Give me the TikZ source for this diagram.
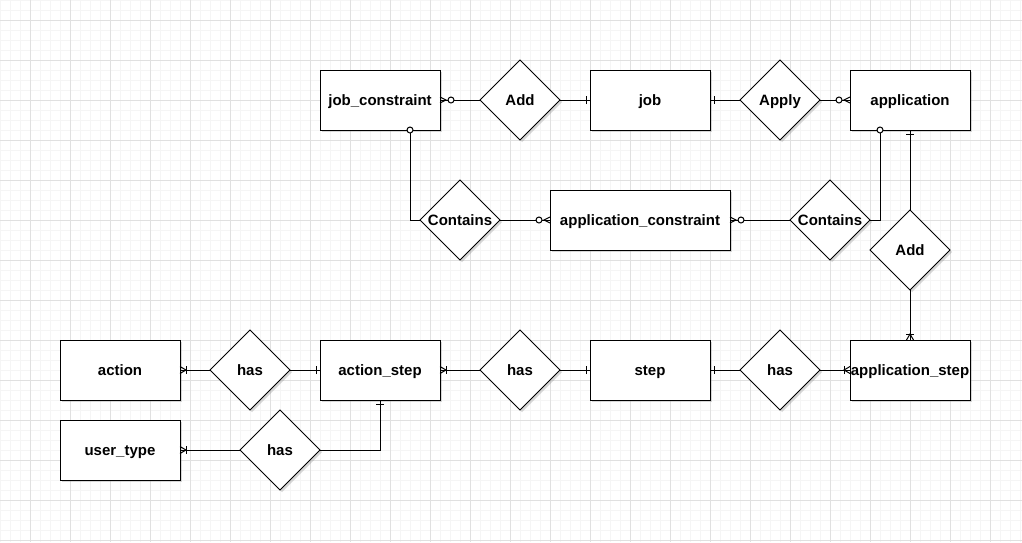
\documentclass[tikz,border=0pt]{standalone}
\usepackage{fontspec}
\setmainfont{Liberation Sans}
\usetikzlibrary{shapes.geometric,shadows,calc}
\definecolor{gridminor}{HTML}{F5F5F5}
\definecolor{gridmajor}{HTML}{E0E0E0}
\tikzset{
  ent/.style={draw=black,line width=1pt,fill=white,rectangle,minimum width=120pt,minimum height=60pt,
    inner sep=0pt,outer sep=0pt,font=\fontsize{15}{18}\selectfont\bfseries,
    text height=11pt,text depth=1pt,
    drop shadow={shadow xshift=2pt,shadow yshift=-2pt,opacity=0.3,fill=gray}},
  rel/.style={draw=black,line width=1pt,fill=white,diamond,minimum width=80pt,minimum height=80pt,
    inner sep=0pt,outer sep=0pt,font=\fontsize{15}{18}\selectfont\bfseries,
    text height=11pt,text depth=1pt,
    drop shadow={shadow xshift=2pt,shadow yshift=-2pt,opacity=0.3,fill=gray}},
  conn/.style={draw=black,line width=1pt},
  mk/.style={line width=1pt,draw=black},
  zmany/.pic={\draw[mk] (0pt,3pt) -- (6pt,0pt) -- (0pt,-3pt);
              \draw[mk,fill=white] (11pt,0pt) circle[radius=3pt];},
  omany/.pic={\draw[mk] (0pt,3.5pt) -- (6pt,0pt) -- (0pt,-3.5pt);
              \draw[mk] (6pt,4pt) -- (6pt,-4pt);},
  onebar/.pic={\draw[mk] (4pt,4pt) -- (4pt,-4pt);},
  zcirc/.pic={\draw[mk,fill=white] (0pt,0pt) circle[radius=3pt];}
}
\begin{document}
\begin{tikzpicture}[x=1pt,y=-1pt]
\useasboundingbox (0,0) rectangle (1022,542);
\fill[white] (0,0) rectangle (1022,542);
% grid
\foreach \x in {0,10,...,1020} {\draw[gridminor,line width=1pt] (\x,0) -- (\x,542);}
\foreach \y in {0,10,...,540} {\draw[gridminor,line width=1pt] (0,\y) -- (1022,\y);}
\foreach \x in {30,70,...,1020} {\draw[gridmajor,line width=1pt] (\x,0) -- (\x,542);}
\foreach \y in {20,60,...,540} {\draw[gridmajor,line width=1pt] (0,\y) -- (1022,\y);}

% entities
\node[ent] (jc) at (380,100) {job\_constraint};
\node[ent] (job) at (650,100) {job};
\node[ent] (app) at (910,100) {application};
\node[ent,minimum width=180pt] (ac) at (640,220) {application\_constraint};
\node[ent] (action) at (120,370) {action};
\node[ent] (actstep) at (380,370) {action\_step};
\node[ent] (step) at (650,370) {step};
\node[ent] (appstep) at (910,370) {application\_step};
\node[ent] (ut) at (120,450) {user\_type};

% relations
\node[rel] (add1) at (520,100) {Add};
\node[rel] (apply) at (780,100) {Apply};
\node[rel] (con1) at (460,220) {Contains};
\node[rel] (con2) at (830,220) {Contains};
\node[rel] (add2) at (910,250) {Add};
\node[rel] (has1) at (250,370) {has};
\node[rel] (has2) at (520,370) {has};
\node[rel] (has3) at (780,370) {has};
\node[rel] (has4) at (280,450) {has};

% connectors
\draw[conn] (jc.east) -- (add1.west);
\draw[conn] (add1.east) -- (job.west);
\draw[conn] (job.east) -- (apply.west);
\draw[conn] (apply.east) -- (app.west);
\draw[conn] ([xshift=30pt]jc.south) |- (con1.west);
\draw[conn] (con1.east) -- (ac.west);
\draw[conn] (ac.east) -- (con2.west);
\draw[conn] (con2.east) -| ([xshift=-30pt]app.south);
\draw[conn] (app.south) -- (add2.north);
\draw[conn] (add2.south) -- (appstep.north);
\draw[conn] (has3.east) -- (appstep.west);
\draw[conn] (step.east) -- (has3.west);
\draw[conn] (has2.east) -- (step.west);
\draw[conn] (actstep.east) -- (has2.west);
\draw[conn] (has1.east) -- (actstep.west);
\draw[conn] (action.east) -- (has1.west);
\draw[conn] (ut.east) -- (has4.west);
\draw[conn] (has4.east) -| (actstep.south);

% markers
\pic at (jc.east) {zmany};
\pic[rotate=180] at (job.west) {onebar};
\pic at (job.east) {onebar};
\pic[rotate=180] at (app.west) {zmany};
\pic at ([xshift=30pt]jc.south) {zcirc};
\pic[rotate=180] at (ac.west) {zmany};
\pic at (ac.east) {zmany};
\pic at ([xshift=-30pt]app.south) {zcirc};
\pic[rotate=-90] at (app.south) {onebar};
\pic[rotate=90] at (appstep.north) {omany};
\pic[rotate=180] at (appstep.west) {omany};
\pic at (step.east) {onebar};
\pic[rotate=180] at (step.west) {onebar};
\pic at (actstep.east) {omany};
\pic[rotate=180] at (actstep.west) {onebar};
\pic at (action.east) {omany};
\pic at (ut.east) {omany};
\pic[rotate=-90] at (actstep.south) {onebar};
\end{tikzpicture}
\end{document}
